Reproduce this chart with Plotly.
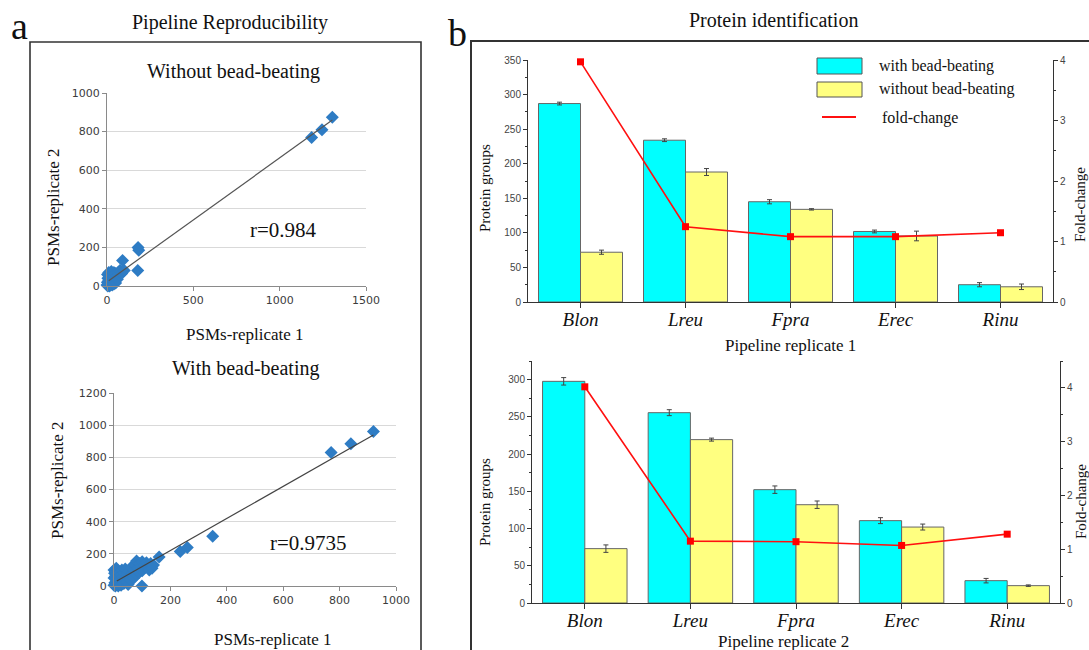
import numpy as np
import plotly.graph_objects as go

W, H = 1089, 650

# ---------------- data ----------------
# Panel a, top: without bead-beating (PSMs replicate 1 vs replicate 2)
wo_rep1 = [0, 2, 3, 5, 5, 8, 10, 10, 12, 15, 15, 18, 20, 20, 22, 25, 25, 28, 30, 30,
           32, 35, 38, 40, 40, 45, 45, 50, 50, 55, 60, 60, 65, 70, 75, 80, 85, 90,
           100, 180, 184, 178, 1185, 1245, 1305]
wo_rep2 = [5, 20, 60, 0, 40, 10, 70, 30, 15, 50, 0, 25, 45, 65, 8, 35, 75, 20, 55, 5,
           40, 60, 30, 10, 70, 50, 25, 65, 15, 45, 55, 35, 70, 60, 80, 75, 65, 132,
           80, 200, 185, 80, 770, 810, 875]
wo_r = "r=0.984"

# Panel a, bottom: with bead-beating
wi_rep1 = [0, 0, 0, 2, 3, 5, 5, 5, 8, 8, 10, 10, 12, 15, 15, 18, 20, 20, 22, 25,
           25, 28, 30, 30, 35, 35, 40, 40, 45, 45, 50, 50, 55, 60, 60, 65, 70, 70,
           75, 80, 80, 85, 90, 90, 95, 100, 100, 105, 110, 115, 120, 125, 130, 135,
           140, 99, 160, 235, 260, 350, 770, 840, 920]
wi_rep2 = [5, 50, 100, 80, 20, 0, 60, 90, 30, 110, 10, 75, 45, 0, 95, 60, 20, 85, 40, 5,
           70, 100, 30, 55, 15, 80, 45, 105, 25, 70, 10, 90, 60, 35, 115, 75, 50, 100,
           130, 70, 155, 110, 85, 140, 120, 95, 150, 130, 115, 145, 120, 100, 140, 110,
           130, 0, 180, 215, 240, 310, 830, 885, 960]
wi_r = "r=0.9735"

# Panel b
species = ["Blon", "Lreu", "Fpra", "Erec", "Rinu"]
# Pipeline replicate 1
r1_with = [287, 234, 145, 102, 25]
r1_with_err = [2, 2, 3, 2, 3]
r1_without = [72, 188, 134, 95.5, 22]
r1_without_err = [3, 5, 1, 7, 4]
r1_fold = [3.97, 1.245, 1.08, 1.08, 1.145]
# Pipeline replicate 2
r2_with = [297.7, 255.6, 152.2, 110.6, 30]
r2_with_err = [5, 4, 5, 4, 3]
r2_without = [73, 219.4, 132, 102, 23.3]
r2_without_err = [5, 2, 5, 4, 1]
r2_fold = [4.02, 1.15, 1.14, 1.07, 1.28]

assert len(wo_rep1) == len(wo_rep2) and len(wi_rep1) == len(wi_rep2)

# ---------------- helpers ----------------
def px(x):
    return x / W


def py(y):
    return 1 - y / H


SERIF = "Liberation Serif, Times New Roman, serif"
SANS = "Liberation Sans, Arial, sans-serif"
CYAN = "#00FFFF"
YELLOW = "#FFFF80"
BLUE = "#2E7CC4"

fig = go.Figure()


def fit_line(xs, ys):
    xs = np.asarray(xs, float)
    ys = np.asarray(ys, float)
    k, b = np.polyfit(xs, ys, 1)
    x0 = max(10.0, xs.min())
    x1 = xs.max()
    return [x0, x1], [k * x0 + b, k * x1 + b]


# scatter top
fig.add_trace(go.Scatter(x=wo_rep1, y=wo_rep2, mode="markers",
                         marker=dict(symbol="diamond", size=10, color=BLUE),
                         xaxis="x", yaxis="y", showlegend=False, cliponaxis=False))
fx, fy = fit_line(wo_rep1, wo_rep2)
fig.add_trace(go.Scatter(x=fx, y=fy, mode="lines", line=dict(color="#555555", width=1.2),
                         xaxis="x", yaxis="y", showlegend=False, hoverinfo="skip"))
# scatter bottom
fig.add_trace(go.Scatter(x=wi_rep1, y=wi_rep2, mode="markers",
                         marker=dict(symbol="diamond", size=10, color=BLUE),
                         xaxis="x2", yaxis="y2", showlegend=False, cliponaxis=False))
fx, fy = fit_line(wi_rep1, wi_rep2)
fig.add_trace(go.Scatter(x=fx, y=fy, mode="lines", line=dict(color="#444444", width=1.2),
                         xaxis="x2", yaxis="y2", showlegend=False, hoverinfo="skip"))


def add_bars(xa, ya, ya2, w, we, wo, woe, fold):
    fig.add_trace(go.Bar(x=species, y=w, name="with bead-beating", marker=dict(color=CYAN, line=dict(color="#666666", width=1)),
                         error_y=dict(type="data", array=we, color="#444444", thickness=1, width=2.5),
                         xaxis=xa, yaxis=ya, showlegend=False))
    fig.add_trace(go.Bar(x=species, y=wo, name="without bead-beating", marker=dict(color=YELLOW, line=dict(color="#666666", width=1)),
                         error_y=dict(type="data", array=woe, color="#444444", thickness=1, width=2.5),
                         xaxis=xa, yaxis=ya, showlegend=False))
    fig.add_trace(go.Scatter(x=species, y=fold, name="fold-change", mode="lines+markers",
                             line=dict(color="#FF1010", width=1.6),
                             marker=dict(symbol="square", size=7, color="#FF0000"),
                             xaxis=xa, yaxis=ya2, showlegend=False, cliponaxis=False))


add_bars("x3", "y3", "y4", r1_with, r1_with_err, r1_without, r1_without_err, r1_fold)
add_bars("x4", "y5", "y6", r2_with, r2_with_err, r2_without, r2_without_err, r2_fold)

sc_tick = dict(family="DejaVu Sans, Verdana, sans-serif", size=11, color="#3c3c3c")
bar_tick = dict(family=SANS, size=10, color="#444444")
cat_tick = dict(family=SERIF, size=19, color="#111111", style="italic")

common_sx = dict(showgrid=False, zeroline=False, showline=True, linecolor="#8a8a8a", linewidth=1,
                 ticks="outside", ticklen=4, tickcolor="#8a8a8a", tickfont=sc_tick, fixedrange=True,
                 automargin=False)
common_sy = dict(showgrid=True, gridcolor="#d9d9d9", gridwidth=1, zeroline=False, showline=True,
                 linecolor="#8a8a8a", linewidth=1, ticks="outside", ticklen=4, tickcolor="#8a8a8a",
                 tickfont=sc_tick, fixedrange=True, automargin=False)

bar_x = dict(type="category", categoryorder="array", categoryarray=species, range=[-0.5, 4.5],
             showline=True, linecolor="#333333", linewidth=1, ticks="outside", ticklen=5,
             tickcolor="#333333", tickfont=cat_tick, showgrid=False, zeroline=False, fixedrange=True,
             automargin=False, ticklabelstandoff=-5)
bar_y = dict(showline=True, linecolor="#333333", linewidth=1, ticks="outside", ticklen=4,
             tickcolor="#333333", tickfont=bar_tick, showgrid=False, zeroline=False, fixedrange=True,
             automargin=False)


def minor(d):
    return dict(ticks="outside", ticklen=2, tickcolor="#333333", dtick=d)


fig.update_layout(
    width=W, height=H, margin=dict(l=0, r=0, t=0, b=0, pad=0), autosize=False,
    paper_bgcolor="white", plot_bgcolor="white",
    barmode="group", bargap=0.2, bargroupgap=0,
    xaxis=dict(domain=[px(107), px(366)], range=[0, 1500], dtick=500, anchor="y", **common_sx),
    yaxis=dict(domain=[py(286), py(93)], range=[0, 1000], dtick=200, anchor="x", **common_sy),
    xaxis2=dict(domain=[px(114), px(396)], range=[0, 1000], dtick=200, anchor="y2", **common_sx),
    yaxis2=dict(domain=[py(586), py(393)], range=[0, 1200], dtick=200, anchor="x2", **common_sy),
    xaxis3=dict(domain=[px(528), px(1053)], anchor="y3", **bar_x),
    yaxis3=dict(domain=[py(302), py(60)], range=[0, 350], dtick=50, anchor="x3", minor=minor(25), **bar_y),
    yaxis4=dict(overlaying="y3", side="right", anchor="x3", range=[0, 4], dtick=1, minor=minor(0.5), **bar_y),
    xaxis4=dict(domain=[px(532), px(1060)], anchor="y5", **bar_x),
    yaxis5=dict(domain=[py(603), py(361)], range=[0, 325], dtick=50, anchor="x4", minor=minor(25), **bar_y),
    yaxis6=dict(overlaying="y5", side="right", anchor="x4", range=[0, 4.5], dtick=1, minor=minor(0.5), **bar_y),
)

annotations = []


def txt(x, y, text, size, angle=0, xanchor="center", family=SERIF, color="#111111"):
    annotations.append(dict(x=px(x), y=py(y), xref="paper", yref="paper", text=text, showarrow=False,
                            font=dict(family=family, size=size, color=color), textangle=angle,
                            xanchor=xanchor, yanchor="middle"))


# panel a
txt(19, 26, "a", 38)
txt(230, 22, "Pipeline Reproducibility", 20)
txt(233, 71, "Without bead-beating", 20)
txt(53, 207, "PSMs-replicate 2", 17, angle=-90)
txt(245, 335, "PSMs-replicate 1", 17)
txt(283, 230, wo_r, 21)
txt(245, 368, "With bead-beating", 20)
txt(57, 480, "PSMs-replicate 2", 17, angle=-90)
txt(273, 639, "PSMs-replicate 1", 17)
txt(308, 543, wi_r, 21)

# panel b
txt(457, 33, "b", 38)
txt(773, 20, "Protein identification", 20)
txt(485, 188, "Protein groups", 15, angle=-90)
txt(1080, 205, "Fold-change", 15, angle=-90)
txt(790, 345, "Pipeline replicate 1", 17)
txt(485, 502, "Protein groups", 15, angle=-90)
txt(1081, 502, "Fold-change", 15, angle=-90)
txt(783, 641, "Pipeline replicate 2", 17)

# legend texts
txt(877, 66, "with bead-beating", 16, xanchor="left")
txt(877, 89, "without bead-beating", 16, xanchor="left")
txt(880, 118, "fold-change", 16, xanchor="left")

fig.update_layout(annotations=annotations)

shapes = [
    # panel frames
    dict(type="rect", xref="paper", yref="paper", x0=px(30), x1=px(421), y0=py(665), y1=py(42),
         line=dict(color="#333333", width=1.6), fillcolor="rgba(0,0,0,0)", layer="below"),
    dict(type="rect", xref="paper", yref="paper", x0=px(471), x1=px(1100), y0=py(665), y1=py(41),
         line=dict(color="#333333", width=2), fillcolor="rgba(0,0,0,0)", layer="below"),
    # legend swatches
    dict(type="rect", xref="paper", yref="paper", x0=px(817), x1=px(862), y0=py(74), y1=py(58),
         line=dict(color="#555555", width=1), fillcolor=CYAN),
    dict(type="rect", xref="paper", yref="paper", x0=px(817), x1=px(862), y0=py(97), y1=py(82),
         line=dict(color="#555555", width=1), fillcolor=YELLOW),
    dict(type="line", xref="paper", yref="paper", x0=px(822), x1=px(856), y0=py(117), y1=py(117),
         line=dict(color="#FF1010", width=1.8)),
]
fig.update_layout(shapes=shapes)

fig.write_html(
    "out.html",
    config={"displayModeBar": False},
    post_script="document.body.style.margin='0';document.body.style.overflow='hidden';"
                "document.documentElement.style.overflow='hidden';",
)
